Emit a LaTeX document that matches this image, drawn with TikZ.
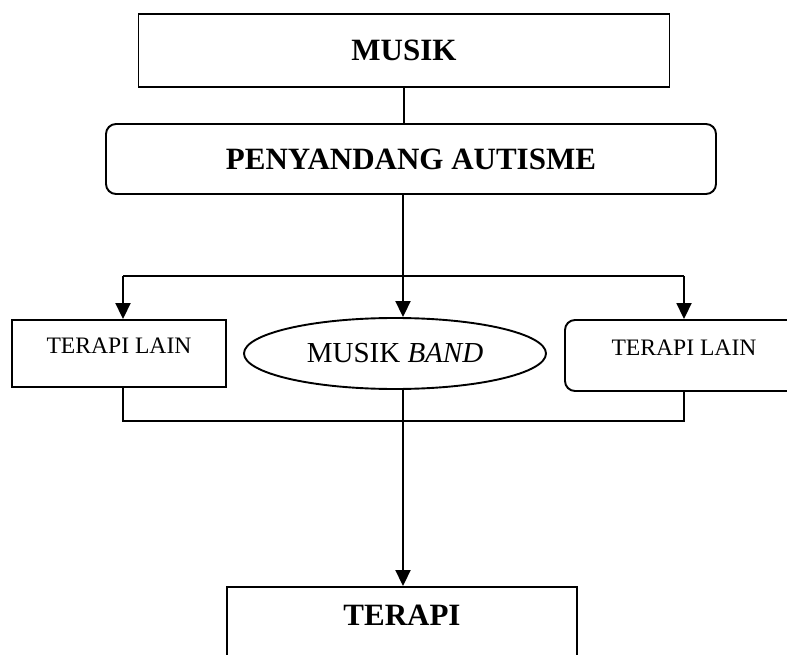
\documentclass[tikz,border=0pt]{standalone}
\usepackage{fontspec}
\setmainfont{Liberation Serif}
\usetikzlibrary{shapes.geometric,arrows.meta}
\begin{document}
\begin{tikzpicture}[x=1pt,y=-1pt,line width=1.9pt,>={Triangle[width=15pt,length=16pt]},
    box/.style={draw,inner sep=0pt},
    head/.style={font=\fontsize{31}{37}\selectfont\bfseries},
    side/.style={font=\fontsize{23.6}{28}\selectfont,text depth=16pt}]
    \useasboundingbox (0,0) rectangle (787,655);
    \node[box,head,minimum width=531pt,minimum height=73pt] (musik) at (404,50.5) {MUSIK};
    \node[box,head,rounded corners=10pt,minimum width=610pt,minimum height=70pt] (peny) at (411,159) {PENYANDANG AUTISME};
    \node[box,side,minimum width=214pt,minimum height=67pt] (tl) at (119,353.5) {TERAPI LAIN};
    \node[box,ellipse,font=\fontsize{29}{34}\selectfont,minimum width=302pt,minimum height=71pt] (band) at (395,353.5) {MUSIK \textit{BAND}};
    \node[box,side,rounded corners=10pt,minimum width=238pt,minimum height=71pt] (tr) at (684,355.5) {TERAPI LAIN};
    \node[box,head,minimum width=350pt,minimum height=90pt,text depth=34pt] (terapi) at (402,632) {TERAPI};
    \coordinate (splitL) at (123,276);
    \coordinate (splitR) at (684,276);
    \coordinate (joinL) at (123,421);
    \coordinate (joinR) at (684,421);
    \draw (musik.south) -- (musik.south |- peny.north);
    \draw[->] ([xshift=8pt]band.north |- peny.south) -- ([xshift=8pt]band.north);
    \draw (splitL) -- (splitR);
    \draw[->] (splitL) -- (splitL |- tl.north);
    \draw[->] (splitR) -- (tr.north);
    \draw (tl.south -| joinL) -- (joinL) -- (joinR) -- (tr.south);
    \draw[->] ([xshift=8pt]band.south) -- ([xshift=8pt]band.south |- terapi.north);
\end{tikzpicture}
\end{document}
